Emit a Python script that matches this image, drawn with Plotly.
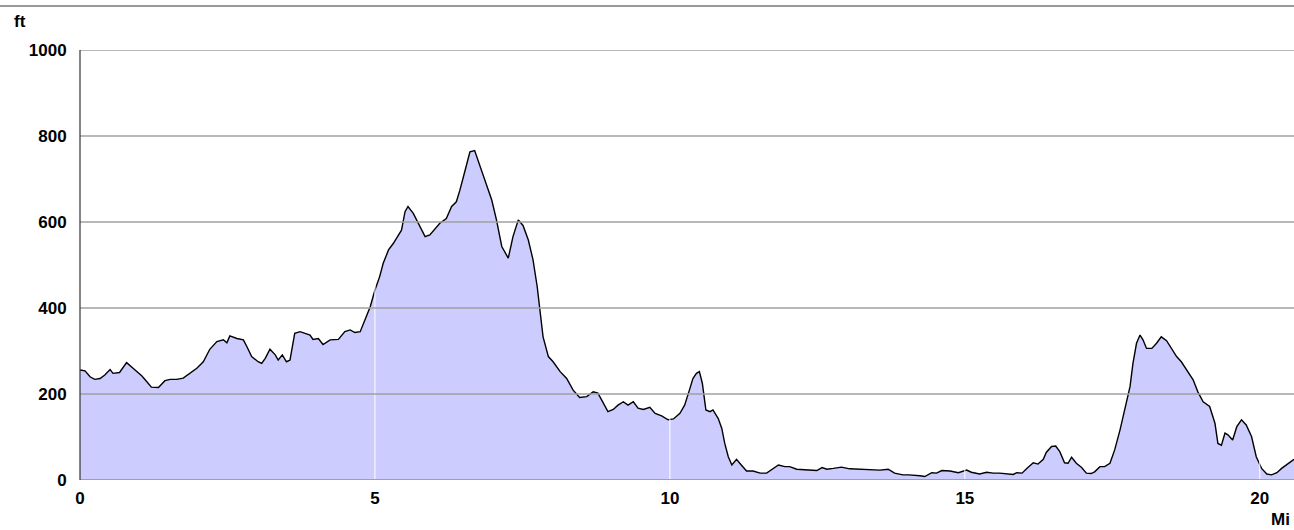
import plotly.graph_objects as go

dist = [0.00, 0.085, 0.17, 0.25, 0.34, 0.42, 0.51, 0.56, 0.67, 0.79, 0.90, 1.05, 1.13, 1.21, 1.33,
        1.44, 1.53, 1.64, 1.75, 1.86, 1.98, 2.09, 2.20, 2.32, 2.43, 2.49, 2.54, 2.66, 2.77, 2.83,
        2.91, 3.02, 3.08, 3.14, 3.22, 3.31, 3.36, 3.43, 3.50, 3.56, 3.64, 3.73, 3.81, 3.90, 3.95,
        4.04, 4.12, 4.24, 4.38, 4.49, 4.58, 4.66, 4.75, 4.83, 4.92, 5.00, 5.08, 5.14, 5.23, 5.31,
        5.39, 5.45, 5.51, 5.56, 5.65, 5.73, 5.85, 5.93, 6.02, 6.10, 6.21, 6.30, 6.38, 6.44, 6.53,
        6.61, 6.69, 6.78, 6.85, 6.92, 6.98, 7.06, 7.15, 7.26, 7.34, 7.43, 7.51, 7.60, 7.68, 7.75,
        7.80, 7.85, 7.94, 8.02, 8.14, 8.25, 8.36, 8.47, 8.59, 8.70, 8.78, 8.87, 8.95, 9.04, 9.12,
        9.21, 9.29, 9.38, 9.46, 9.55, 9.66, 9.75, 9.86, 9.97, 10.06, 10.17, 10.25, 10.34, 10.39,
        10.45, 10.50, 10.55, 10.61, 10.68, 10.73, 10.82, 10.88, 10.93, 10.99, 11.05, 11.13, 11.21,
        11.30, 11.41, 11.53, 11.64, 11.75, 11.84, 11.95, 12.03, 12.15, 12.32, 12.49, 12.58, 12.66,
        12.77, 12.91, 13.05, 13.22, 13.39, 13.56, 13.70, 13.81, 13.95, 14.05, 14.24, 14.32, 14.44,
        14.52, 14.61, 14.75, 14.89, 15.03, 15.11, 15.25, 15.37, 15.48, 15.59, 15.82, 15.88, 15.97,
        16.05, 16.16, 16.24, 16.33, 16.38, 16.47, 16.54, 16.61, 16.69, 16.75, 16.81, 16.89, 16.98,
        17.06, 17.14, 17.20, 17.29, 17.37, 17.46, 17.54, 17.63, 17.71, 17.80, 17.85, 17.91, 17.97,
        18.02, 18.08, 18.17, 18.25, 18.33, 18.42, 18.50, 18.59, 18.67, 18.76, 18.87, 18.95, 19.04,
        19.15, 19.24, 19.29, 19.35, 19.41, 19.46, 19.54, 19.61, 19.69, 19.77, 19.86, 19.94, 20.03,
        20.12, 20.20, 20.29, 20.37, 20.48, 20.58]
elev = [256, 254, 240, 234, 236, 244, 257, 248, 250, 273, 260, 242, 229, 216, 215,
        231, 234, 234, 237, 248, 260, 275, 304, 322, 326, 319, 335, 329, 326, 310,
        287, 275, 271, 283, 304, 291, 279, 291, 275, 279, 341, 345, 341, 337, 327,
        329, 315, 326, 327, 345, 349, 343, 345, 372, 403, 442, 473, 504, 535, 550,
        566, 581, 624, 636, 620, 597, 566, 570, 585, 597, 608, 636, 647, 674, 721,
        763, 766, 729, 705, 674, 651, 605, 543, 516, 566, 605, 592, 558, 512, 450,
        395, 333, 287, 275, 252, 236, 209, 192, 194, 205, 202, 178, 159, 164, 174,
        182, 174, 182, 167, 164, 169, 155, 149, 140, 142, 155, 174, 213, 236,
        248, 252, 225, 163, 159, 163, 143, 120, 85, 54, 35, 48, 35,
        21, 21, 16, 16, 27, 35, 31, 31, 25, 23, 22, 29, 25,
        27, 30, 26, 25, 25, 23, 25, 16, 12, 12, 10, 8, 17,
        16, 22, 21, 17, 23, 18, 14, 18, 16, 16, 13, 17, 16,
        27, 40, 37, 48, 64, 78, 79, 66, 40, 39, 53, 39, 29,
        16, 15, 19, 31, 31, 39, 70, 116, 163, 217, 271, 318, 337,
        326, 306, 306, 318, 333, 324, 306, 287, 275, 256, 233, 205, 182,
        171, 132, 85, 81, 109, 105, 93, 124, 140, 128, 101, 54, 27,
        14, 12, 17, 27, 39, 48]

x_ticks = [0, 5, 10, 15, 20]
y_ticks = [0, 200, 400, 600, 800, 1000]
x_max = 20.58

W, H = 1294, 530
ML, MR, MT, MB = 80, 0, 50, 50
PW = W - ML - MR
PH = H - MT - MB

font = dict(family="Liberation Sans, Arial, sans-serif", size=17, color="#000000", weight="bold")

fig = go.Figure()
fig.add_trace(go.Scatter(
    x=dist, y=elev, mode="lines",
    line=dict(color="#000000", width=1.4),
    fill="tozeroy", fillcolor="rgb(204,204,255)",
    hoverinfo="skip", showlegend=False,
))

shapes = []
for xv in x_ticks[1:]:
    shapes.append(dict(type="line", xref="x", yref="y", x0=xv, x1=xv, y0=0, y1=y_ticks[-1],
                       line=dict(color="#ffffff", width=1), layer="above"))
for yv in y_ticks[1:]:
    shapes.append(dict(type="line", xref="paper", yref="y", x0=0, x1=1, y0=yv, y1=yv,
                       line=dict(color="#a0a0a0", width=1.5), layer="above"))
# bottom axis line
shapes.append(dict(type="line", xref="paper", yref="y", x0=0, x1=1, y0=0, y1=0,
                   line=dict(color="#a0a0a0", width=2), layer="above"))
# left axis line
shapes.append(dict(type="line", xref="paper", yref="paper", x0=0, x1=0, y0=0, y1=1,
                   line=dict(color="#333333", width=1.2), layer="above"))
# top decorative rule across the full width
top_y = (H - MB - 6) / PH
shapes.append(dict(type="line", xref="paper", yref="paper", x0=-ML / PW, x1=(W - ML) / PW,
                   y0=top_y, y1=top_y, line=dict(color="#777777", width=1.5), layer="above"))

annotations = [
    dict(text="ft", xref="paper", yref="paper", x=-(ML - 12) / PW, y=(H - MB - 22) / PH,
         xanchor="left", yanchor="middle", showarrow=False, font=font),
    dict(text="Mi", xref="paper", yref="paper", x=(W - 2 - ML) / PW, y=-(519 - (H - MB)) / PH,
         xanchor="right", yanchor="middle", showarrow=False, font=font),
]

fig.update_layout(
    width=W, height=H,
    margin=dict(l=ML, r=MR, t=MT, b=MB),
    paper_bgcolor="#ffffff", plot_bgcolor="#ffffff",
    shapes=shapes, annotations=annotations,
    xaxis=dict(range=[0, x_max], tickvals=x_ticks, ticktext=[str(v) for v in x_ticks],
               showgrid=False, zeroline=False, showline=False,
               ticks="outside", ticklen=3, tickcolor="rgba(0,0,0,0)",
               tickfont=font, fixedrange=True),
    yaxis=dict(range=[0, 1000], tickvals=y_ticks, ticktext=[str(v) for v in y_ticks],
               showgrid=False, zeroline=False, showline=False,
               ticks="outside", ticklen=9, tickcolor="rgba(0,0,0,0)",
               tickfont=font, fixedrange=True),
)

fig.write_html("out.html", config={"displayModeBar": False},
               post_script="document.body.style.margin='0';document.body.style.overflow='hidden';")
